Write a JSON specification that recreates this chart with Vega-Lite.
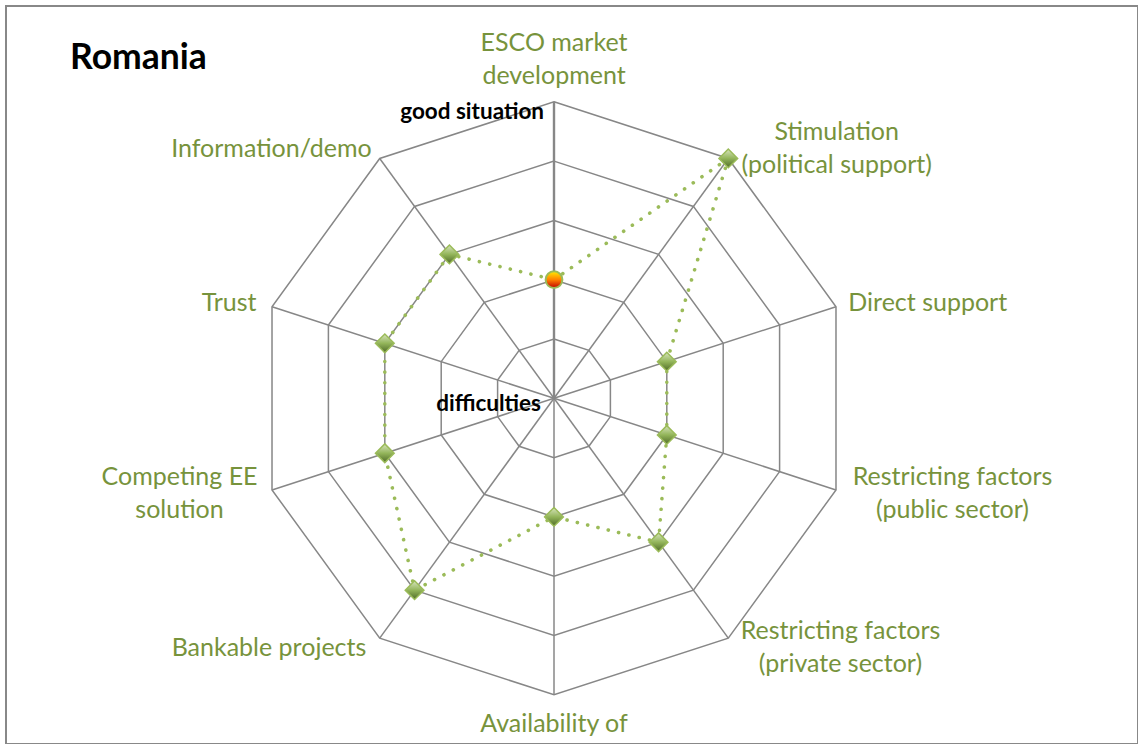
{
  "$schema": "https://vega.github.io/schema/vega-lite/v6.json",
  "width": 1132,
  "height": 738,
  "autosize": {"type": "none"},
  "padding": {"left": 6, "top": 6, "right": 0, "bottom": 0},
  "background": "white",
  "config": {"view": {"stroke": "#888888", "strokeWidth": 2}},
  "title": {
    "text": "Romania",
    "anchor": "start",
    "frame": "group",
    "orient": "top",
    "offset": 0,
    "dx": 64,
    "dy": 98,
    "baseline": "alphabetic",
    "font": "Lato",
    "fontSize": 35.5,
    "fontWeight": "bold",
    "color": "#000000"
  },
  "datasets": {
    "axes": [
      {"i": 0, "axis": "ESCO market\ndevelopment", "value": 2},
      {"i": 1, "axis": "Stimulation\n(political support)", "value": 5},
      {"i": 2, "axis": "Direct support", "value": 2},
      {"i": 3, "axis": "Restricting factors\n(public sector)", "value": 2},
      {"i": 4, "axis": "Restricting factors\n(private sector)", "value": 3},
      {"i": 5, "axis": "Availability of", "value": 2},
      {"i": 6, "axis": "Bankable projects", "value": 4},
      {"i": 7, "axis": "Competing EE\nsolution", "value": 3},
      {"i": 8, "axis": "Trust", "value": 3},
      {"i": 9, "axis": "Information/demo", "value": 3}
    ],
    "rings": [
      {"ring": 1, "i": [0, 1, 2, 3, 4, 5, 6, 7, 8, 9]},
      {"ring": 2, "i": [0, 1, 2, 3, 4, 5, 6, 7, 8, 9]},
      {"ring": 3, "i": [0, 1, 2, 3, 4, 5, 6, 7, 8, 9]},
      {"ring": 4, "i": [0, 1, 2, 3, 4, 5, 6, 7, 8, 9]},
      {"ring": 5, "i": [0, 1, 2, 3, 4, 5, 6, 7, 8, 9]}
    ],
    "notes": [
      {"note": "good situation", "level": 5},
      {"note": "difficulties", "level": 0}
    ]
  },
  "encoding": {
    "x": {"field": "x", "type": "quantitative", "scale": {"domain": [-9.241, 9.848], "nice": false, "zero": false}, "axis": null},
    "y": {"field": "y", "type": "quantitative", "scale": {"domain": [-5.83, 6.616], "nice": false, "zero": false}, "axis": null}
  },
  "layer": [
    {
      "data": {"name": "rings"},
      "transform": [
        {"flatten": ["i"]},
        {"calculate": "datum.i*PI/5", "as": "a"},
        {"calculate": "datum.ring*sin(datum.a)", "as": "x"},
        {"calculate": "datum.ring*cos(datum.a)", "as": "y"}
      ],
      "mark": {"type": "line", "interpolate": "linear-closed", "color": "#878787", "strokeWidth": 1.5},
      "encoding": {"detail": {"field": "ring", "type": "nominal"}, "order": {"field": "i", "type": "quantitative"}}
    },
    {
      "data": {"name": "axes"},
      "transform": [
        {"calculate": "datum.i*PI/5", "as": "a"},
        {"calculate": "0", "as": "x"},
        {"calculate": "0", "as": "y"},
        {"calculate": "5*sin(datum.a)", "as": "x2"},
        {"calculate": "5*cos(datum.a)", "as": "y2"}
      ],
      "mark": {"type": "rule", "color": "#878787"},
      "encoding": {
        "x2": {"field": "x2"},
        "y2": {"field": "y2"},
        "strokeWidth": {"condition": {"test": "datum.i===0", "value": 2.4}, "value": 1.5}
      }
    },
    {
      "data": {"name": "axes"},
      "transform": [
        {"calculate": "datum.i*PI/5", "as": "a"},
        {"calculate": "datum.value*sin(datum.a)", "as": "x"},
        {"calculate": "datum.value*cos(datum.a)", "as": "y"}
      ],
      "mark": {"type": "line", "interpolate": "linear-closed", "color": "#9BBB59", "strokeWidth": 3.6, "strokeDash": [0.1, 10.5], "strokeCap": "round"},
      "encoding": {"order": {"field": "i", "type": "quantitative"}}
    },
    {
      "data": {"name": "axes"},
      "transform": [
        {"filter": "datum.i>0"},
        {"calculate": "datum.i*PI/5", "as": "a"},
        {"calculate": "datum.value*sin(datum.a)", "as": "x"},
        {"calculate": "datum.value*cos(datum.a)", "as": "y"}
      ],
      "mark": {
        "type": "point",
        "shape": "diamond",
        "size": 350,
        "filled": true,
        "opacity": 1,
        "fill": {"gradient": "linear", "x1": 0, "y1": 0, "x2": 0, "y2": 1, "stops": [{"offset": 0, "color": "#d7e4bd"}, {"offset": 0.5, "color": "#93b55a"}, {"offset": 1, "color": "#4f6a28"}]},
        "stroke": "#9BBB59",
        "strokeWidth": 1.5
      }
    },
    {
      "data": {"name": "axes"},
      "transform": [
        {"filter": "datum.i===0"},
        {"calculate": "datum.i*PI/5", "as": "a"},
        {"calculate": "datum.value*sin(datum.a)", "as": "x"},
        {"calculate": "datum.value*cos(datum.a)", "as": "y"}
      ],
      "mark": {
        "type": "point",
        "shape": "circle",
        "size": 280,
        "filled": true,
        "opacity": 1,
        "fill": {"gradient": "linear", "x1": 0, "y1": 0, "x2": 0, "y2": 1, "stops": [{"offset": 0, "color": "#ffee00"}, {"offset": 0.5, "color": "#ff8000"}, {"offset": 1, "color": "#c00000"}]},
        "stroke": "#9BBB59",
        "strokeWidth": 2
      }
    },
    {
      "data": {"name": "axes"},
      "transform": [
        {"filter": "datum.i===0"},
        {"calculate": "split(datum.axis,'\\n')", "as": "lines"},
        {"calculate": "0", "as": "x"},
        {"calculate": "5.2 + (length(datum.lines)-1)*34/59.3", "as": "y"}
      ],
      "mark": {"type": "text", "font": "Lato", "fontSize": 25, "lineHeight": 33, "lineBreak": "\n", "align": "center", "baseline": "bottom", "color": "#77933C"},
      "encoding": {"text": {"field": "axis", "type": "nominal"}}
    },
    {
      "data": {"name": "axes"},
      "transform": [
        {"filter": "datum.i===5"},
        {"calculate": "0", "as": "x"},
        {"calculate": "-5.2", "as": "y"}
      ],
      "mark": {"type": "text", "font": "Lato", "fontSize": 25, "lineHeight": 33, "lineBreak": "\n", "align": "center", "baseline": "top", "dy": 5, "color": "#77933C"},
      "encoding": {"text": {"field": "axis", "type": "nominal"}}
    },
    {
      "data": {"name": "axes"},
      "transform": [
        {"filter": "datum.i!==0 && datum.i!==5"},
        {"calculate": "datum.i*PI/5", "as": "a"},
        {"calculate": "split(datum.axis,'\\n')", "as": "lines"},
        {"calculate": "datum.lines[0]", "as": "l0"},
        {"calculate": "length(datum.lines)>1 ? datum.lines[1] : ''", "as": "l1"},
        {"calculate": "13*length(datum.l0) - 5.8*(length(datum.l0)-length(replace(datum.l0, regexp('[iljtfr()/ I]','g'), ''))) + 7*(length(datum.l0)-length(replace(datum.l0, regexp('[mw]','g'), ''))) + 1.5*(length(datum.l0)-length(replace(datum.l0, regexp('[A-Z]','g'), '')))", "as": "w0"},
        {"calculate": "13*length(datum.l1) - 5.8*(length(datum.l1)-length(replace(datum.l1, regexp('[iljtfr()/ I]','g'), ''))) + 7*(length(datum.l1)-length(replace(datum.l1, regexp('[mw]','g'), ''))) + 1.5*(length(datum.l1)-length(replace(datum.l1, regexp('[A-Z]','g'), '')))", "as": "w1"},
        {"calculate": "max(datum.w0, datum.w1)*25/24", "as": "w"},
        {"calculate": "5.2*sin(datum.a) + (datum.i<5 ? 1 : -1)*(3 + datum.w/2)/59.3", "as": "x"},
        {"calculate": "5.2*cos(datum.a) + (length(datum.lines)-1)*16.5/59.3", "as": "y"}
      ],
      "mark": {"type": "text", "font": "Lato", "fontSize": 25, "lineHeight": 33, "lineBreak": "\n", "align": "center", "baseline": "middle", "color": "#77933C"},
      "encoding": {"text": {"field": "axis", "type": "nominal"}}
    },
    {
      "data": {"name": "notes"},
      "transform": [
        {"filter": "datum.level===5"},
        {"calculate": "0", "as": "x"},
        {"calculate": "datum.level", "as": "y"}
      ],
      "mark": {"type": "text", "font": "Lato", "fontSize": 22.5, "fontWeight": "bold", "align": "right", "baseline": "middle", "dx": -10, "dy": 10, "color": "#000000"},
      "encoding": {"text": {"field": "note", "type": "nominal"}}
    },
    {
      "data": {"name": "notes"},
      "transform": [
        {"filter": "datum.level===0"},
        {"calculate": "0", "as": "x"},
        {"calculate": "datum.level", "as": "y"}
      ],
      "mark": {"type": "text", "font": "Lato", "fontSize": 22.5, "fontWeight": "bold", "align": "right", "baseline": "middle", "dx": -13, "dy": 6, "color": "#000000"},
      "encoding": {"text": {"field": "note", "type": "nominal"}}
    }
  ]
}
